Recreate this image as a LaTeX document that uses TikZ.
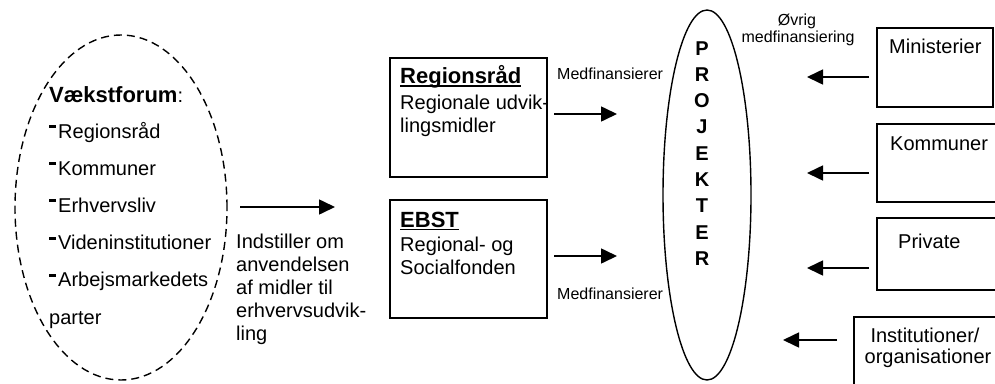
\documentclass[tikz,border=0pt]{standalone}
\usepackage{fontspec}
\setmainfont{Liberation Sans}
\usetikzlibrary{arrows.meta,shapes.geometric}
\newcommand{\itemdash}{\rule[10pt]{6.5pt}{3pt}\hspace{2.5pt}}
\newcommand{\headline}[1]{\sbox0{#1}\rlap{\rule[-3.4pt]{\wd0}{1.8pt}}\usebox0}

\begin{document}
\begin{tikzpicture}
			[x=1pt,y=-1pt,font=\fontsize{20}{24}\selectfont,
			every node/.style={inner sep=0,anchor=base west},
			box/.style={draw,rectangle,line width=1.8pt,anchor=center},
			blob/.style={draw,ellipse,line width=1.4pt,anchor=center},
			edge/.style={-{Triangle[length=16pt,width=15pt]},line width=1.6pt},
			small/.style={font=\fontsize{16}{19}\selectfont},
			head/.style={font=\fontsize{22}{26}\selectfont\bfseries}]
			\clip (0,0) rectangle (995,383);
			
			\node[blob,dash pattern=on 8pt off 5pt,minimum width=212pt,minimum height=345pt] (vf) at (121,207.5) {};
			\node[blob,minimum width=88pt,minimum height=370pt] (proj) at (707,195) {};
			
			\node[box,minimum width=157pt,minimum height=119pt] (rr) at (468.5,117.5) {};
			\node[box,minimum width=157pt,minimum height=118pt] (ebst) at (468.5,259) {};
			\node[box,minimum width=116pt,minimum height=79pt] (min) at (935,67.5) {};
			\node[box,minimum width=140pt,minimum height=78pt] (kom) at (947,163) {};
			\node[box,minimum width=140pt,minimum height=72pt] (priv) at (947,254) {};
			\node[box,minimum width=160pt,minimum height=90pt] (inst) at (934,362) {};
			
			% Vaekstforum
			\node (vfhead) at (49,102) {\textbf{\fontsize{22}{26}\selectfont Vækstforum}:};
			\node (vf1) at (49,138) {\itemdash Regionsråd};
			\node (vf2) at (49,175.2) {\itemdash Kommuner};
			\node (vf3) at (49,212.4) {\itemdash Erhvervsliv};
			\node (vf4) at (49,249.6) {\itemdash Videninstitutioner};
			\node (vf5) at (49,286.8) {\itemdash Arbejsmarkedets};
			\node (vf6) at (49,324) {parter};
			
			\node (ind1) at (236,248) {Indstiller om};
			\node (ind2) at (236,271) {anvendelsen};
			\node (ind3) at (236,294) {af midler til};
			\node (ind4) at (236,317) {erhvervsudvik-};
			\node (ind5) at (236,340) {ling};
			
			% boxes in the middle
			\node[head] (rrhead) at (400,83.5) {\headline{Regionsråd}};
			\node (rr1) at (400,109) {Regionale udvik-};
			\node (rr2) at (400,132) {lingsmidler};
			\node[head] (ebhead) at (400,227) {\headline{EBST}};
			\node (eb1) at (400,251) {Regional- og};
			\node (eb2) at (400,274) {Socialfonden};
			\node[small] (med1) at (557,79) {Medfinansierer};
			\node[small] (med2) at (557,299) {Medfinansierer};
			
			% PROJEKTER
			\node[anchor=base,font=\fontsize{20}{24}\selectfont\bfseries] (p1) at (702,55) {P};
			\node[anchor=base,font=\fontsize{20}{24}\selectfont\bfseries] (p2) at (702,81.3) {R};
			\node[anchor=base,font=\fontsize{20}{24}\selectfont\bfseries] (p3) at (702,107.6) {O};
			\node[anchor=base,font=\fontsize{20}{24}\selectfont\bfseries] (p4) at (702,133.9) {J};
			\node[anchor=base,font=\fontsize{20}{24}\selectfont\bfseries] (p5) at (702,160.2) {E};
			\node[anchor=base,font=\fontsize{20}{24}\selectfont\bfseries] (p6) at (702,186.5) {K};
			\node[anchor=base,font=\fontsize{20}{24}\selectfont\bfseries] (p7) at (702,212.8) {T};
			\node[anchor=base,font=\fontsize{20}{24}\selectfont\bfseries] (p8) at (702,239.1) {E};
			\node[anchor=base,font=\fontsize{20}{24}\selectfont\bfseries] (p9) at (702,265.4) {R};
			
			% right side
			\node[small,anchor=base] (ovr1) at (797,25) {Øvrig};
			\node[small,anchor=base] (ovr2) at (798,42) {medfinansiering};
			\node (mintxt) at (889,53) {Ministerier};
			\node (komtxt) at (890,150) {Kommuner};
			\node (privtxt) at (898,248) {Private};
			\node[anchor=base] (inst1) at (925,342) {Institutioner/};
			\node[anchor=base] (inst2) at (928,363) {organisationer};
			
			\coordinate (c0a) at (240,207);  \coordinate (c0b) at (335,207);
			\coordinate (c1a) at (554,114);  \coordinate (c1b) at (617,114);
			\coordinate (c2a) at (554,256);  \coordinate (c2b) at (617,256);
			\coordinate (c3a) at (869,77);   \coordinate (c3b) at (807,77);
			\coordinate (c4a) at (869,173);  \coordinate (c4b) at (807,173);
			\coordinate (c5a) at (869,268);  \coordinate (c5b) at (807,268);
			\coordinate (c6a) at (837,340);  \coordinate (c6b) at (783,340);
			
			\draw[edge] (c0a) to (c0b);
			\draw[edge] (c1a) to (c1b);
			\draw[edge] (c2a) to (c2b);
			\draw[edge] (c3a) to (c3b);
			\draw[edge] (c4a) to (c4b);
			\draw[edge] (c5a) to (c5b);
			\draw[edge] (c6a) to (c6b);
			
			\end{tikzpicture}
\end{document}
